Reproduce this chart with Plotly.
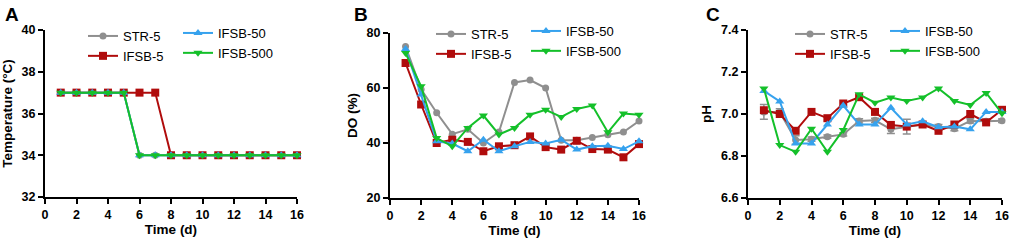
import plotly.graph_objects as go

days = list(range(1, 17))
series_names = ["STR-5", "IFSB-5", "IFSB-50", "IFSB-500"]

# Panel A: Temperature (°C)
temp_str5 = [37, 37, 37, 37, 37, 34, 34, 34, 34, 34, 34, 34, 34, 34, 34, 34]
temp_ifsb5 = [37, 37, 37, 37, 37, 37, 37, 34, 34, 34, 34, 34, 34, 34, 34, 34]
temp_ifsb50 = [37, 37, 37, 37, 37, 34, 34, 34, 34, 34, 34, 34, 34, 34, 34, 34]
temp_ifsb500 = [37, 37, 37, 37, 37, 34, 34, 34, 34, 34, 34, 34, 34, 34, 34, 34]

# Panel B: DO (%)
do_str5 = [75.1, 59.5, 51.0, 43.2, 45.0, 40.0, 44.0, 62.0, 62.9, 60.0, 41.0, 41.0, 42.0, 43.0, 44.0, 48.0]
do_ifsb5 = [69.1, 54.0, 40.0, 41.2, 40.4, 37.0, 38.8, 39.2, 42.4, 38.5, 37.6, 40.8, 37.8, 37.6, 34.8, 39.6]
do_ifsb50 = [74.2, 57.6, 40.6, 39.8, 37.0, 41.2, 37.0, 38.8, 40.4, 39.8, 41.2, 37.6, 38.8, 39.0, 37.8, 40.6]
do_ifsb500 = [72.7, 60.6, 41.8, 38.8, 45.5, 50.0, 43.1, 45.5, 50.3, 52.1, 49.5, 52.4, 53.6, 43.9, 50.7, 50.3]

# Panel C: pH
ph_str5 = [7.01, 7.01, 6.876, 6.88, 6.892, 6.903, 6.967, 6.97, 6.927, 6.94, 6.95, 6.94, 6.93, 6.967, 6.965, 6.968]
ph_str5_err = [0.035, 0.015, 0.02, 0.01, 0.008, 0.008, 0.01, 0.01, 0.02, 0.035, 0.01, 0.01, 0.01, 0.01, 0.01, 0.008]
ph_ifsb5 = [7.018, 7.0, 6.92, 7.01, 6.98, 7.05, 7.08, 7.01, 6.948, 6.94, 6.95, 6.92, 6.95, 7.0, 6.96, 7.02]
ph_ifsb50 = [7.11, 7.06, 6.86, 6.86, 6.95, 7.04, 6.95, 6.95, 7.03, 6.95, 6.965, 6.937, 6.94, 6.927, 7.01, 7.01]
ph_ifsb500 = [7.122, 6.852, 6.82, 6.93, 6.82, 6.924, 7.094, 7.054, 7.078, 7.062, 7.078, 7.122, 7.062, 7.043, 7.1, 7.003]

colors = {"STR-5": "#8f8f8f", "IFSB-5": "#b00c0c", "IFSB-50": "#36a2ee", "IFSB-500": "#14c02a"}
symbols = {"STR-5": "circle", "IFSB-5": "square", "IFSB-50": "triangle-up", "IFSB-500": "triangle-down"}
msize = {"STR-5": 7, "IFSB-5": 8, "IFSB-50": 8, "IFSB-500": 8}

W, H = 1010, 241
FONT = "Liberation Sans, Arial, sans-serif"

fig = go.Figure()

panels = [
    ("x", "y", [temp_str5, temp_ifsb5, temp_ifsb50, temp_ifsb500], None, ("legend", "legend2")),
    ("x2", "y2", [do_str5, do_ifsb5, do_ifsb50, do_ifsb500], None, ("legend3", "legend4")),
    ("x3", "y3", [ph_str5, ph_ifsb5, ph_ifsb50, ph_ifsb500], ph_str5_err, ("legend5", "legend6")),
]

for xa, ya, vals, err, (lg1, lg2) in panels:
    for i, name in enumerate(series_names):
        kw = {}
        if err is not None and name == "STR-5":
            kw["error_y"] = dict(type="data", array=err, visible=True, color=colors[name], thickness=1.5, width=4)
        fig.add_trace(go.Scatter(
            x=days, y=vals[i], name=name, mode="lines+markers",
            line=dict(color=colors[name], width=2),
            marker=dict(color=colors[name], symbol=symbols[name], size=msize[name]),
            xaxis=xa, yaxis=ya,
            legend=lg1 if i < 2 else lg2,
            cliponaxis=False,
            **kw,
        ))

def px_x(p):
    return p / W

def px_y(p):
    return 1 - p / H

axis_common = dict(
    showline=True, linecolor="black", linewidth=2, ticks="outside", ticklen=5,
    tickwidth=2, tickcolor="black", showgrid=False, zeroline=False, automargin=False,
    tickfont=dict(family=FONT, size=12.5, color="black", weight="bold"),
    title_font=dict(family=FONT, size=13.5, color="black", weight="bold"),
)

xdoms = [(45, 297), (390, 639), (748, 1002)]
ydoms = [(30, 197), (33, 198), (30, 198)]
yranges = [[32, 40], [20, 80], [6.6, 7.4]]
ydticks = [2, 20, 0.2]
ytitles = ["Temperature (°C)", "DO (%)", "pH"]
yfmt = ["", "", ".1f"]

layout = dict(
    width=W, height=H, margin=dict(l=0, r=0, t=0, b=0, autoexpand=False),
    paper_bgcolor="white", plot_bgcolor="white",
    font=dict(family=FONT, color="black"),
)
for k in range(3):
    sx = "xaxis" if k == 0 else f"xaxis{k+1}"
    sy = "yaxis" if k == 0 else f"yaxis{k+1}"
    anchor_x = "y" if k == 0 else f"y{k+1}"
    anchor_y = "x" if k == 0 else f"x{k+1}"
    layout[sx] = dict(axis_common, domain=[px_x(xdoms[k][0]), px_x(xdoms[k][1])], anchor=anchor_x,
                      range=[0, 16], dtick=2, tick0=0,
                      title=dict(text="Time (d)", standoff=4))
    layout[sy] = dict(axis_common, domain=[px_y(ydoms[k][1]), px_y(ydoms[k][0])], anchor=anchor_y,
                      range=yranges[k], dtick=ydticks[k], tickformat=yfmt[k],
                      title=dict(text=ytitles[k], standoff=6))

legend_text_x = [(125, 220), (473, 568), (832, 927)]
legend_top = [(21, 18), (19, 16), (19, 16)]
lg_names = [("legend", "legend2"), ("legend3", "legend4"), ("legend5", "legend6")]
for k in range(3):
    for j in range(2):
        layout[lg_names[k][j]] = dict(
            x=px_x(legend_text_x[k][j] - 42), y=px_y(legend_top[k][j]),
            xanchor="left", yanchor="top", bgcolor="rgba(0,0,0,0)",
            font=dict(family=FONT, size=13, color="black"),
            tracegroupgap=0, itemwidth=30,
        )

fig.update_layout(**layout)

letters = [("A", 3), ("B", 352), ("C", 704)]
for t, xpos in letters:
    fig.add_annotation(text=f"<b>{t}</b>", x=px_x(xpos), y=px_y(2), xref="paper", yref="paper",
                       xanchor="left", yanchor="top", showarrow=False,
                       font=dict(family=FONT, size=19, color="black"))

fig.write_html("out.html", config={"displayModeBar": False},
               post_script="document.body.style.margin='0px';document.body.style.overflow='hidden';")
